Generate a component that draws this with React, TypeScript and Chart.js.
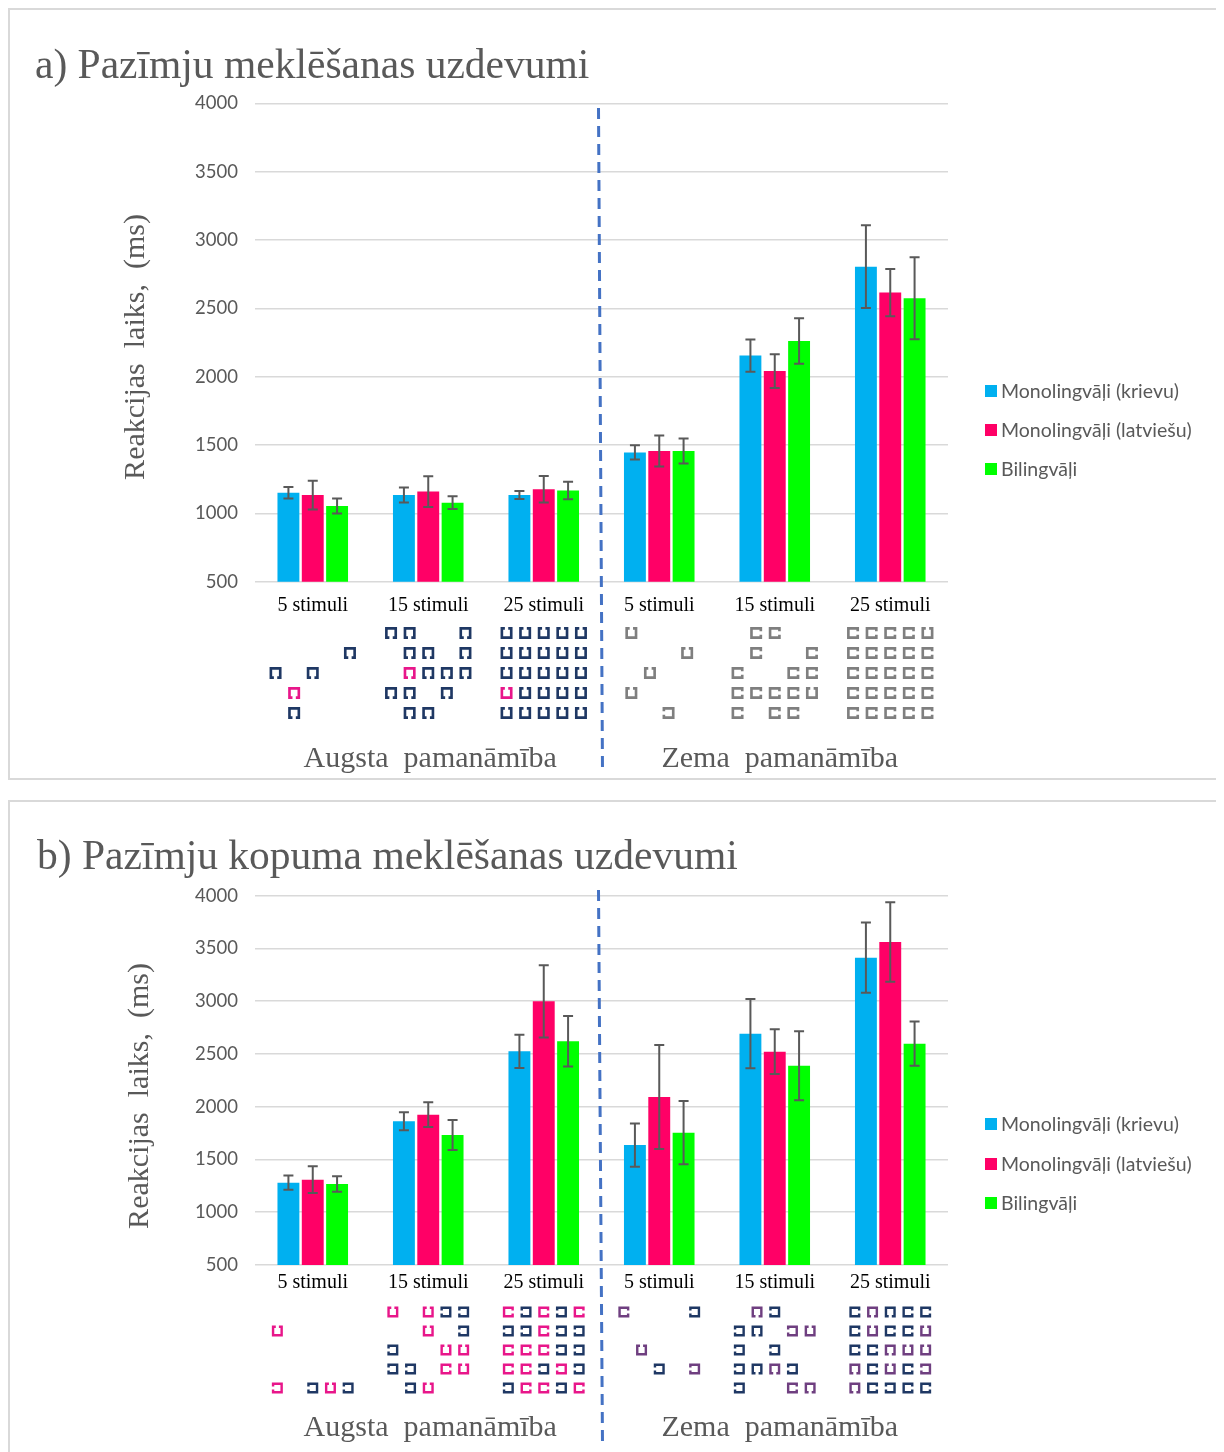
import React, { useEffect, useRef } from "react";
import { Chart, registerables } from "chart.js";

Chart.register(...registerables);

// ---------- data ----------
const categories = ["5 stimuli", "15 stimuli", "25 stimuli", "5 stimuli", "15 stimuli", "25 stimuli"];
const seriesLabels = ["Monolingvāļi (krievu)", "Monolingvāļi (latviešu)", "Bilingvāļi"];
const seriesColors = ["#00B0F0", "#FF0066", "#00FF00"];
const groupLabels = ["Augsta  pamanāmība", "Zema  pamanāmība"];
const yMin = 500;
const yMax = 4000;
const yStep = 500;

// a) feature search
const aKrievu = [1151, 1134, 1134, 1446, 2154, 2805];
const aKrievuErr = [42, 55, 29, 52, 118, 302];
const aLatviesu = [1134, 1159, 1176, 1456, 2041, 2615];
const aLatviesuErr = [105, 113, 97, 113, 123, 173];
const aBiling = [1054, 1078, 1168, 1456, 2261, 2573];
const aBilingErr = [55, 47, 64, 92, 166, 300];

// b) conjunction search
const bKrievu = [1280, 1862, 2525, 1637, 2692, 3413];
const bKrievuErr = [68, 85, 158, 205, 328, 333];
const bLatviesu = [1309, 1925, 2999, 2092, 2522, 3561];
const bLatviesuErr = [127, 118, 342, 492, 212, 376];
const bBiling = [1268, 1732, 2620, 1754, 2389, 2598];
const bBilingErr = [74, 143, 239, 300, 327, 210];

// stimulus icons: u = open top, n = open bottom, c = open right, d = open left
// uppercase = second colour, '.' = empty cell
const aIcons = [
  [".....", "....n", "n.n..", ".N...", ".n..."],
  ["nn..n", ".nn.n", ".Nnnn", "nn.n.", ".nn.."],
  ["uuuuu", "uuuuu", "uuuuu", "Uuuuu", "uuuuu"],
  ["u...", "...u", ".u..", "u...", "..d."],
  [".cc..", ".c..c", "c..cc", "ccccu", "c.cc."],
  ["ccccu", "ccccc", "ccccc", "ccccc", "ccccc"],
];
const bIcons = [
  [".....", "U....", ".....", ".....", "D.dUd"],
  ["U.Udd", "..U.d", "d..UU", "dd.CU", ".dU.."],
  ["CdCdC", "ddCdd", "CCCdd", "CCdDd", "dCCdC"],
  ["C...d", ".....", ".U...", "..d.D", "....."],
  [".Nd..", "dn.DU", "d.d..", "dnNd.", "d..CN"],
  ["cNncc", "cUccU", "ccNUU", "NcUcD", "Ncdcc"],
];

const NAVY = "#1F3864";
const PINK = "#E8168A";
const GREY = "#7F7F7F";
const PURPLE = "#6F3F80";

type PanelCfg = {
  title: string;
  means: number[][];
  errs: number[][];
  icons: string[][];
  colors: [string, string][]; // per half: [lower, upper]
  width: number;
  height: number;
  top: number;
  bottom: number;
  tickPad: number;
  titleX: number;
  titleBase: number;
  yTitleX: number;
  yTitleY: number;
  legendY: number[];
  dashTop: number;
  dashBottom: number;
  iconRow0: number;
  pitchX: number;
  pitchY: number;
  iconSize: number;
  groupBase: number;
};

const CHART_LEFT = 245;
const CHART_RIGHT = 938;
const Y_AXIS_W = 137;
const X_AXIS_H = 40;

function drawIcon(ctx: CanvasRenderingContext2D, cx: number, cy: number, size: number, dir: string) {
  const lw = size * 0.22;
  const h = size / 2 - lw / 2;
  const g = size * 0.14;
  const corners = [
    [-h, -h],
    [h, -h],
    [h, h],
    [-h, h],
  ];
  const map: Record<string, number> = { u: 0, c: 1, n: 2, d: 3 };
  const k = map[dir] ?? 0;
  const a = corners[k];
  const b = corners[(k + 1) % 4];
  const mx = (a[0] + b[0]) / 2;
  const my = (a[1] + b[1]) / 2;
  const ux = Math.sign(b[0] - a[0]);
  const uy = Math.sign(b[1] - a[1]);
  ctx.lineWidth = lw;
  ctx.lineJoin = "miter";
  ctx.lineCap = "butt";
  ctx.beginPath();
  ctx.moveTo(cx + mx + ux * g, cy + my + uy * g);
  for (let i = 1; i <= 4; i++) {
    const p = corners[(k + i) % 4];
    ctx.lineTo(cx + p[0], cy + p[1]);
  }
  ctx.lineTo(cx + mx - ux * g, cy + my - uy * g);
  ctx.stroke();
}

function Panel({ cfg }: { cfg: PanelCfg }) {
  const ref = useRef<HTMLCanvasElement | null>(null);

  useEffect(() => {
    const canvas = ref.current;
    if (!canvas) return;

    const overlay = {
      id: "overlay",
      afterDatasetsDraw(chart: any) {
        const ctx: CanvasRenderingContext2D = chart.ctx;
        const xs = chart.scales.x;
        const ys = chart.scales.y;
        ctx.save();

        // error bars
        ctx.strokeStyle = "#595959";
        ctx.lineWidth = 2;
        cfg.means.forEach((_, di) => {
          const meta = chart.getDatasetMeta(di);
          meta.data.forEach((bar: any, i: number) => {
            const m = cfg.means[di][i];
            const e = cfg.errs[di][i];
            const yt = ys.getPixelForValue(m + e);
            const yb = ys.getPixelForValue(m - e);
            const x = bar.x;
            ctx.beginPath();
            ctx.moveTo(x, yt);
            ctx.lineTo(x, yb);
            ctx.moveTo(x - 5, yt);
            ctx.lineTo(x + 5, yt);
            ctx.moveTo(x - 5, yb);
            ctx.lineTo(x + 5, yb);
            ctx.stroke();
          });
        });

        // dashed divider
        const xd = xs.getPixelForValue(2.5);
        ctx.strokeStyle = "#4472C4";
        ctx.lineWidth = 3;
        ctx.setLineDash([11, 7]);
        ctx.beginPath();
        ctx.moveTo(xd - 3, cfg.dashTop);
        ctx.lineTo(xd + 1, cfg.dashBottom);
        ctx.stroke();
        ctx.setLineDash([]);

        // title
        ctx.fillStyle = "#595959";
        ctx.font = "41.5px 'Liberation Serif', serif";
        ctx.textAlign = "left";
        ctx.textBaseline = "alphabetic";
        ctx.fillText(cfg.title, cfg.titleX, cfg.titleBase);

        // y axis title
        ctx.save();
        ctx.translate(cfg.yTitleX, cfg.yTitleY);
        ctx.rotate(-Math.PI / 2);
        ctx.font = "30px 'Liberation Serif', serif";
        ctx.textAlign = "center";
        ctx.textBaseline = "middle";
        ctx.fillText("Reakcijas  laiks,  (ms)", 0, 0);
        ctx.restore();

        // legend
        ctx.font = "19.5px Lato, sans-serif";
        ctx.textAlign = "left";
        ctx.textBaseline = "middle";
        seriesLabels.forEach((lab, i) => {
          const y = cfg.legendY[i];
          ctx.fillStyle = seriesColors[i];
          ctx.fillRect(975, y - 6, 12, 12);
          ctx.fillStyle = "#595959";
          ctx.fillText(lab, 991, y + 1);
        });

        // icons
        cfg.icons.forEach((grid, gi) => {
          const cx = xs.getPixelForValue(gi);
          const cols = Math.max(...grid.map((r) => r.length));
          const x0 = cx - ((cols - 1) * cfg.pitchX) / 2;
          const pal = cfg.colors[gi < 3 ? 0 : 1];
          grid.forEach((row, r) => {
            for (let c = 0; c < row.length; c++) {
              const ch = row[c];
              if (ch === ".") continue;
              const upper = ch !== ch.toLowerCase();
              ctx.strokeStyle = upper ? pal[1] : pal[0];
              drawIcon(ctx, x0 + c * cfg.pitchX, cfg.iconRow0 + r * cfg.pitchY, cfg.iconSize, ch.toLowerCase());
            }
          });
        });

        // group labels
        ctx.fillStyle = "#595959";
        ctx.font = "30px 'Liberation Serif', serif";
        ctx.textAlign = "center";
        ctx.textBaseline = "alphabetic";
        ctx.fillText(groupLabels[0], xs.getPixelForValue(1) + 2, cfg.groupBase);
        ctx.fillText(groupLabels[1], xs.getPixelForValue(4) + 5, cfg.groupBase);

        ctx.restore();
      },
    };

    const chart = new Chart(canvas, {
      type: "bar",
      data: {
        labels: categories,
        datasets: seriesLabels.map((label, i) => ({
          label,
          data: cfg.means[i],
          backgroundColor: seriesColors[i],
          borderWidth: 0,
          categoryPercentage: 0.632,
          barPercentage: 0.9,
        })),
      },
      options: {
        animation: false,
        responsive: false,
        events: [],
        layout: {
          padding: {
            left: CHART_LEFT - Y_AXIS_W,
            right: cfg.width - CHART_RIGHT,
            top: cfg.top,
            bottom: cfg.height - cfg.bottom - X_AXIS_H,
          },
        },
        plugins: {
          legend: { display: false },
          title: { display: false },
          tooltip: { enabled: false },
        },
        scales: {
          x: {
            grid: { display: false },
            border: { display: false },
            ticks: {
              color: "#000000",
              font: { family: "'Liberation Serif', serif", size: 20 },
              padding: cfg.tickPad,
              maxRotation: 0,
              autoSkip: false,
            },
            afterFit: (s: any) => {
              s.height = X_AXIS_H;
            },
          },
          y: {
            min: yMin,
            max: yMax,
            ticks: {
              stepSize: yStep,
              color: "#595959",
              font: { family: "Lato, sans-serif", size: 18.5 },
              padding: 17,
              callback: (v: any) => String(v),
            },
            grid: { color: "#D9D9D9", lineWidth: 1.5, drawTicks: false },
            border: { display: false },
            afterFit: (s: any) => {
              s.width = Y_AXIS_W;
            },
          },
        },
      } as any,
      plugins: [overlay],
    });

    return () => chart.destroy();
  }, [cfg]);

  return (
    <canvas
      ref={ref}
      width={cfg.width}
      height={cfg.height}
      style={{ display: "block", width: cfg.width, height: cfg.height }}
    />
  );
}

const panelA: PanelCfg = {
  title: "a) Pazīmju meklēšanas uzdevumi",
  means: [aKrievu, aLatviesu, aBiling],
  errs: [aKrievuErr, aLatviesuErr, aBilingErr],
  icons: aIcons,
  colors: [
    [NAVY, PINK],
    [GREY, GREY],
  ],
  width: 1206,
  height: 768,
  top: 93.3,
  bottom: 571.7,
  tickPad: 4,
  titleX: 25,
  titleBase: 68,
  yTitleX: 126,
  yTitleY: 337,
  legendY: [381, 420, 459],
  dashTop: 98,
  dashBottom: 762,
  iconRow0: 623,
  pitchX: 18.6,
  pitchY: 20,
  iconSize: 12,
  groupBase: 757,
};

const panelB: PanelCfg = {
  title: "b) Pazīmju kopuma meklēšanas uzdevumi",
  means: [bKrievu, bLatviesu, bBiling],
  errs: [bKrievuErr, bLatviesuErr, bBilingErr],
  icons: bIcons,
  colors: [
    [NAVY, PINK],
    [NAVY, PURPLE],
  ],
  width: 1206,
  height: 666,
  top: 93.7,
  bottom: 463,
  tickPad: -2,
  titleX: 27,
  titleBase: 67,
  yTitleX: 130,
  yTitleY: 294,
  legendY: [322, 362, 401],
  dashTop: 88,
  dashBottom: 643,
  iconRow0: 510,
  pitchX: 17.7,
  pitchY: 19,
  iconSize: 11,
  groupBase: 634,
};

export default function App() {
  const box: React.CSSProperties = {
    width: 1210,
    boxSizing: "border-box",
    border: "2px solid #D9D9D9",
    background: "#fff",
  };
  return (
    <div style={{ width: 1210 }}>
      <div style={{ ...box, height: 772 }}>
        <Panel cfg={panelA} />
      </div>
      <div style={{ ...box, height: 672, marginTop: 20 }}>
        <Panel cfg={panelB} />
      </div>
    </div>
  );
}
